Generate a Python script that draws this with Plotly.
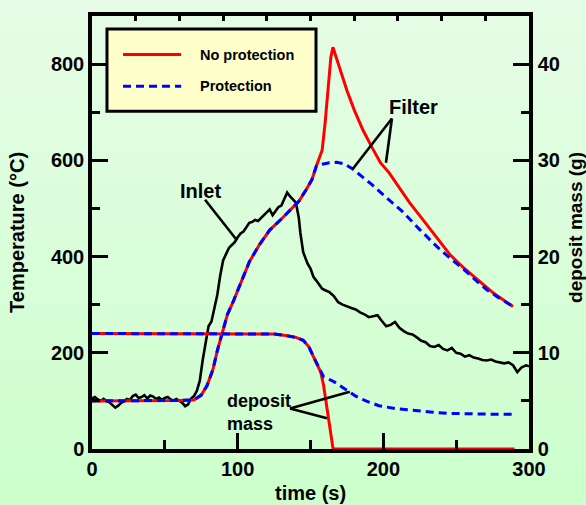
import plotly.graph_objects as go

# ---------------- data ----------------
# Filter temperature, common part (both cases)
t_common = [0, 20, 40, 60, 70, 75, 79, 83, 86, 90, 93, 97, 100, 104, 108, 115, 122, 130, 136, 142, 147, 151, 154]
T_common = [100, 100, 101, 101, 102, 112, 132, 165, 204, 250, 280, 307, 330, 362, 389, 425, 455, 478, 496, 515, 539, 560, 588]

# Filter temperature, no protection (after the common part)
t_nop_tail = [156, 158, 160, 162, 164, 165.4, 170, 175, 180, 186, 192, 198, 204, 211, 218, 225, 235, 246, 255, 264, 276, 289]
T_nop_tail = [605, 621, 677, 745, 815, 835, 790, 745, 705, 663, 628, 595, 574, 542, 512, 485, 445, 403, 377, 354, 323, 296]

# Filter temperature, protection (after the common part)
t_pro_tail = [158, 163, 168, 173, 179, 185, 192, 200, 213, 225, 237, 246, 255, 263, 271, 280, 289]
T_pro_tail = [592, 595, 596, 593, 582, 567, 550, 528, 494, 456, 420, 396, 374, 352, 331, 313, 296]

# Inlet temperature
t_inlet = [0, 2, 4, 6, 8, 10, 12, 14, 16, 18, 20, 22, 24, 26, 28, 30, 32, 34, 36, 38, 40, 42, 44, 46, 48,
           50, 52, 54, 56, 58, 60, 62, 64, 66, 68, 70, 72, 74, 76, 78, 80, 82, 84, 86, 88, 90, 92, 94, 96, 98,
           100, 102, 104, 106, 108, 110, 112, 114, 116, 118, 120, 122, 124, 126, 128, 130, 132, 134, 136, 138,
           140, 142, 143, 145, 148, 150, 152, 154, 156, 158, 160, 163, 166, 169, 172, 175, 178, 181, 184, 187,
           190, 193, 196, 199, 202, 205, 208, 211, 214, 217, 220, 223, 226, 229, 232, 235, 238, 241, 244, 247,
           250, 253, 256, 259, 262, 265, 268, 271, 274, 277, 280, 283, 286, 289, 292, 295, 298, 300]
T_inlet = [105, 108, 103, 100, 104, 99, 97, 92, 86, 90, 96, 99, 104, 102, 110, 113, 106, 108, 112, 105, 111, 109, 104, 107, 102,
           106, 108, 103, 101, 104, 100, 96, 89, 93, 105, 110, 121, 142, 185, 225, 255, 265, 290, 320, 360, 392, 405, 418, 424, 430,
           440, 448, 452, 462, 470, 472, 476, 474, 480, 486, 492, 498, 486, 494, 503, 506, 520, 533, 525, 518,
           512, 480, 450, 409, 385, 375, 358, 350, 342, 333, 330, 326, 318, 305, 300, 296, 293, 290, 284, 280,
           274, 276, 278, 266, 255, 258, 264, 252, 245, 240, 238, 232, 225, 222, 214, 212, 216, 208, 205, 210,
           200, 198, 192, 195, 190, 188, 185, 184, 186, 182, 180, 178, 180, 174, 160, 170, 174, 172]

# Deposit mass (g), common part
t_m_common = [0, 60, 110, 125, 133, 140, 145, 149, 152, 155, 157]
m_common = [12, 12, 12, 11.95, 11.8, 11.6, 11.3, 10.6, 9.6, 8.7, 8.0]
# no protection
t_m_nop_tail = [159, 161, 163, 164.5, 165.5, 290]
m_nop_tail = [6.6, 4.6, 2.2, 0.6, 0, 0]
# protection
t_m_pro_tail = [159, 162, 166, 170, 175, 181, 188, 197, 208, 220, 232, 244, 256, 268, 280, 289]
m_pro_tail = [7.5, 7.3, 7.0, 6.6, 6.1, 5.5, 5.0, 4.5, 4.2, 4.0, 3.85, 3.7, 3.65, 3.6, 3.6, 3.6]

legend_names = ["No protection", "Protection"]

# ---------------- figure ----------------
FONT = "Liberation Sans, Arial, sans-serif"
RED = "#ff0000"
BLUE = "#0000ff"

fig = go.Figure()

fig.add_trace(go.Scatter(x=t_inlet, y=T_inlet, mode="lines", name="Inlet",
                         line=dict(color="black", width=2.6), showlegend=False))
fig.add_trace(go.Scatter(x=t_common + t_nop_tail, y=T_common + T_nop_tail, mode="lines",
                         name=legend_names[0], line=dict(color=RED, width=3), showlegend=False))
fig.add_trace(go.Scatter(x=t_m_common + t_m_nop_tail, y=m_common + m_nop_tail, mode="lines",
                         name=legend_names[0] + " mass", yaxis="y2",
                         line=dict(color=RED, width=3), showlegend=False))
fig.add_trace(go.Scatter(x=t_common + t_pro_tail, y=T_common + T_pro_tail, mode="lines",
                         name=legend_names[1], line=dict(color=BLUE, width=3, dash="8px,5px"),
                         showlegend=False))
fig.add_trace(go.Scatter(x=t_m_common + t_m_pro_tail, y=m_common + m_pro_tail, mode="lines",
                         name=legend_names[1] + " mass", yaxis="y2",
                         line=dict(color=BLUE, width=3, dash="8px,5px"), showlegend=False))
# invisible trace to activate the top tick axis
fig.add_trace(go.Scatter(x=[0, 300], y=[0, 0], xaxis="x2", mode="lines", opacity=0,
                         hoverinfo="skip", showlegend=False))

# ---------------- background gradient ----------------
shapes = []
n = 60
y_lo, y_hi = -0.14, 1.04
top_c = (230, 252, 230)
bot_c = (204, 255, 204)
for i in range(n):
    f = i / (n - 1)
    c = tuple(round(bot_c[k] + (top_c[k] - bot_c[k]) * f) for k in range(3))
    y0 = y_lo + (y_hi - y_lo) * i / n
    y1 = y_lo + (y_hi - y_lo) * (i + 1) / n + 0.002
    shapes.append(dict(type="rect", xref="paper", yref="paper", x0=-0.25, x1=1.2, y0=y0, y1=y1,
                       fillcolor="rgb(%d,%d,%d)" % c, line=dict(width=0), layer="below"))

# ---------------- legend box ----------------
shapes.append(dict(type="rect", xref="paper", yref="paper", x0=0.0343, x1=0.5126, y0=0.780, y1=0.970,
                   fillcolor="#ffffcc", line=dict(color="black", width=3), layer="above"))
shapes.append(dict(type="line", xref="paper", yref="paper", x0=0.071, x1=0.204, y0=0.911, y1=0.911,
                   line=dict(color=RED, width=3), layer="above"))
shapes.append(dict(type="line", xref="paper", yref="paper", x0=0.071, x1=0.204, y0=0.8375, y1=0.8375,
                   line=dict(color=BLUE, width=3, dash="8px,5px"), layer="above"))

# ---------------- pointer lines ----------------
ptr = dict(color="black", width=2.6)
shapes.append(dict(type="line", xref="x", yref="y", x0=77.6, y0=518, x1=99.5, y1=434, line=ptr))
shapes.append(dict(type="line", xref="x", yref="y", x0=205.9, y0=687, x1=179, y1=582, line=ptr))
shapes.append(dict(type="line", xref="x", yref="y", x0=205.9, y0=687, x1=201.8, y1=595, line=ptr))
shapes.append(dict(type="line", xref="x", yref="y", x0=135.9, y0=84, x1=177, y1=119, line=ptr))
shapes.append(dict(type="line", xref="x", yref="y", x0=135.9, y0=84, x1=161.3, y1=64, line=ptr))

bold = dict(family=FONT, color="black", weight="bold")
annotations = [
    dict(text=legend_names[0], xref="paper", yref="paper", x=0.2426, y=0.911, xanchor="left",
         yanchor="middle", showarrow=False, font=dict(size=14.5, **bold)),
    dict(text=legend_names[1], xref="paper", yref="paper", x=0.2426, y=0.8375, xanchor="left",
         yanchor="middle", showarrow=False, font=dict(size=14.5, **bold)),
    dict(text="Inlet", x=74.8, y=537, xref="x", yref="y", showarrow=False, font=dict(size=20, **bold)),
    dict(text="Filter", x=221, y=710, xref="x", yref="y", showarrow=False, font=dict(size=20, **bold)),
    dict(text="deposit<br>mass", x=91.3, y=75, xref="x", yref="y", xanchor="left", align="left",
         showarrow=False, font=dict(size=18, **bold)),
    dict(text="Temperature (°C)", xref="paper", yref="paper", x=-0.1716, y=0.499, textangle=-90,
         xanchor="center", yanchor="middle", showarrow=False, font=dict(size=20, **bold)),
    dict(text="deposit mass (g)", xref="paper", yref="paper", x=1.105, y=0.5126, textangle=-90,
         xanchor="center", yanchor="middle", showarrow=False, font=dict(size=19, **bold)),
    dict(text="time (s)", xref="paper", yref="paper", x=0.5, y=-0.1007, xanchor="center",
         yanchor="middle", showarrow=False, font=dict(size=20, **bold)),
]

tickfont = dict(size=20, **bold)
axis_common = dict(showline=True, linecolor="black", linewidth=3.5, showgrid=False, zeroline=False,
                   ticks="inside", tickcolor="black", tickwidth=3, ticklen=16, tickfont=tickfont)

fig.update_layout(
    width=586, height=505,
    margin=dict(l=92, r=57, t=12, b=56),
    paper_bgcolor="rgb(204,255,204)",
    plot_bgcolor="rgba(0,0,0,0)",
    showlegend=False,
    shapes=shapes,
    annotations=annotations,
    xaxis=dict(range=[0, 300], dtick=100, tick0=0, mirror=True,
               minor=dict(dtick=50, ticks="inside", ticklen=9, tickwidth=3, tickcolor="black"),
               ticklabelstandoff=-1, **axis_common),
    xaxis2=dict(range=[0, 300], overlaying="x", side="top", anchor="y", dtick=30, tick0=0,
                ticks="inside", ticklen=5, tickwidth=2.5, tickcolor="black", showticklabels=False,
                showline=False, showgrid=False, zeroline=False),
    yaxis=dict(range=[0, 900], dtick=200, tick0=0,
               minor=dict(dtick=100, ticks="inside", ticklen=8, tickwidth=3, tickcolor="black"),
               ticklabelstandoff=0, **axis_common),
    yaxis2=dict(range=[0, 45], dtick=10, tick0=0, overlaying="y", side="right", anchor="x",
                minor=dict(dtick=5, ticks="inside", ticklen=8, tickwidth=3, tickcolor="black"),
                ticklabelstandoff=1, **axis_common),
)

fig.write_html("out.html", config={"displayModeBar": False},
               post_script="document.body.style.margin='0';document.body.style.padding='0';")
